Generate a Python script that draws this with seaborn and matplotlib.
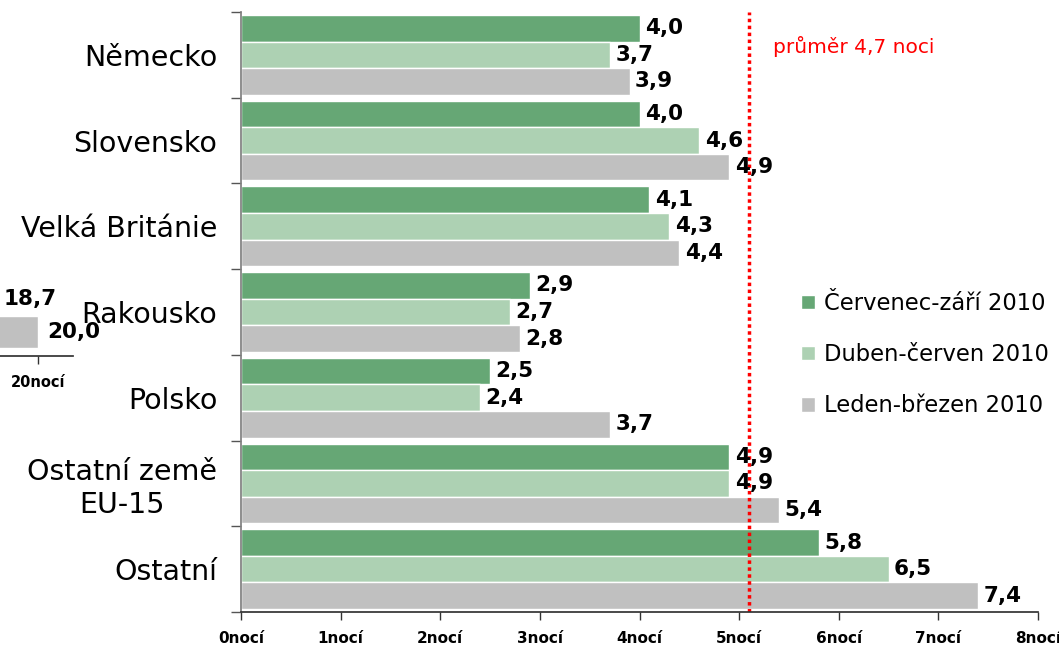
import numpy as np
import pandas as pd
import matplotlib.pyplot as plt
import matplotlib.transforms as mtransforms
import seaborn as sns

# data
countries = ["Německo", "Slovensko", "Velká Británie", "Rakousko", "Polsko",
             "Ostatní země\nEU-15", "Ostatní"]
periods = ["Červenec-září 2010", "Duben-červen 2010", "Leden-březen 2010"]
jul_sep = [4.0, 4.0, 4.1, 2.9, 2.5, 4.9, 5.8]
apr_jun = [3.7, 4.6, 4.3, 2.7, 2.4, 4.9, 6.5]
jan_mar = [3.9, 4.9, 4.4, 2.8, 3.7, 5.4, 7.4]
avg_line = 5.1
avg_label = "průměr 4,7 noci"
x_ticks = list(range(0, 9))
x_tick_labels = [f"{t}nocí" for t in x_ticks]

# cut-off piece of a neighbouring chart on the left edge
ghost_cats = ["a", "b"]
ghost_values = [18.7, 20.0]
ghost_ticks = [20]
ghost_tick_labels = ["20nocí"]

colors = ["#66A775", "#ADD1B3", "#C0C0C0"]

sns.set_theme(style="white")
plt.rcParams["font.family"] = ["DejaVu Sans"]
plt.rcParams.update({"text.color": "black", "xtick.color": "black",
                     "ytick.color": "black", "axes.labelcolor": "black"})

df = pd.DataFrame({
    "země": countries * 3,
    "období": np.repeat(periods, len(countries)),
    "noci": jul_sep + apr_jun + jan_mar,
})

W, H = 1059, 648
fig = plt.figure(figsize=(W / 100, H / 100), dpi=100)
ax = fig.add_axes([241 / W, 1 - 612 / H, (1038 - 241) / W, 600 / H])

sns.barplot(data=df, x="noci", y="země", hue="období", order=countries,
            hue_order=periods, palette=colors, orient="h", width=0.93,
            edgecolor="white", linewidth=1, saturation=1, errorbar=None, ax=ax)

for cont in ax.containers:
    ax.bar_label(cont, labels=[f"{v:.1f}".replace(".", ",") for v in cont.datavalues],
                 padding=4, fontsize=15.5, fontweight="bold", color="black")

ax.axvline(avg_line, color="red", ls=(0, (1, 1)), lw=2.5, zorder=2.5)
ax.text(avg_line + 0.24, 0.943, avg_label, color="red", fontsize=14.5, va="center",
        transform=mtransforms.blended_transform_factory(ax.transData, ax.transAxes))

ax.set_xlim(0, 8)
ax.set_ylim(6.5, -0.5)
ax.set_xticks(x_ticks, x_tick_labels, fontsize=11, fontweight="bold")
ax.set_yticks(range(len(countries)), countries, fontsize=20.5)
for lab in ax.get_yticklabels():
    lab.set_multialignment("center")
ax.set_yticks(np.arange(-0.5, len(countries), 1), minor=True)
ax.tick_params(axis="y", which="major", length=0, pad=17, left=True)
ax.tick_params(axis="y", which="minor", length=7, width=1, color="#555555", left=True)
ax.tick_params(axis="x", length=6, width=1, color="#333333", pad=8, bottom=True)
ax.set_xlabel("")
ax.set_ylabel("")
sns.despine(ax=ax)
ax.spines["left"].set_color("#808080")
ax.spines["bottom"].set_color("#333333")

h, l = ax.get_legend_handles_labels()
ax.legend(h, l, loc="upper left", bbox_to_anchor=(801 / W, 1 - 292 / H),
          bbox_transform=fig.transFigure, frameon=False, fontsize=16.3,
          handlelength=0.62, handleheight=0.62, handletextpad=0.4,
          labelspacing=1.24, borderpad=0, borderaxespad=0)

# ghost axes
gax = fig.add_axes([-100 / W, 1 - 356 / H, 173 / W, 88 / H])
sns.barplot(x=ghost_values, y=ghost_cats, orient="h", color=colors[2], saturation=1,
            width=0.97, errorbar=None, ax=gax)
for cont in gax.containers:
    gax.bar_label(cont, labels=[f"{v:.1f}".replace(".", ",") for v in cont.datavalues],
                  padding=6, fontsize=15.5, fontweight="bold", color="black")
gax.set_xlim(15.87, 21.03)
gax.set_ylim(1.727, -0.94)
gax.set_xticks(ghost_ticks, ghost_tick_labels, fontsize=10.5, fontweight="bold")
gax.set_yticks([])
gax.set_xlabel("")
gax.set_ylabel("")
gax.tick_params(axis="x", length=6, width=1, color="#333333", pad=8, bottom=True)
gax.patch.set_alpha(0)
for s in ["left", "top", "right"]:
    gax.spines[s].set_visible(False)
gax.spines["bottom"].set_color("#333333")

fig.savefig("out.png", dpi=100)
